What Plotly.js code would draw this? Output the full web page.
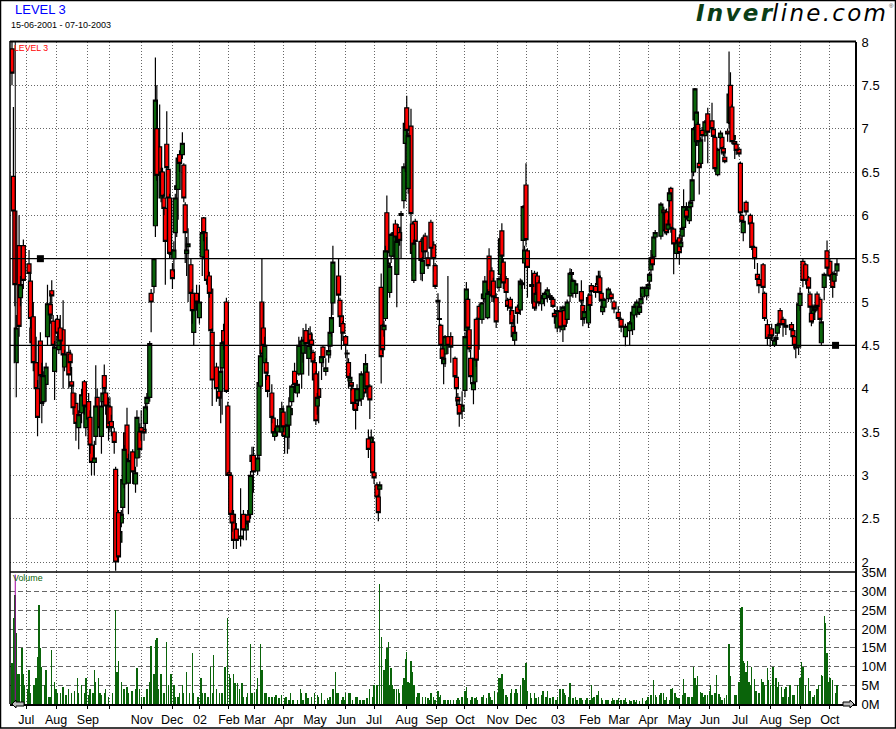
<!DOCTYPE html>
<html>
<head>
<meta charset="utf-8">
<script src="https://cdn.plot.ly/plotly-3.0.1.min.js"></script>
<style>html,body{margin:0;padding:0;background:#fff}</style>
</head>
<body>
<div id="chart" style="width:896px;height:729px"></div>
<script>
const session = [
0,1,2,3,5,6,8,12,13,14,
15,17,18,20,21,22,24,25,27,28,
29,30,32,33,34,36,37,40,41,42,
43,45,47,49,51,52,54,55,56,58,
59,60,63,64,65,66,68,69,70,72,
73,75,76,77,78,79,80,81,82,85,
87,88,90,91,93,94,95,97,98,100,
101,102,104,105,106,107,108,109,110,111,
112,113,114,115,116,117,118,120,121,122,
123,124,126,127,128,130,132,134,135,136,
137,139,140,141,144,146,147,148,149,151,
152,153,154,155,156,158,161,163,165,166,
168,169,170,173,174,175,176,177,178,179,
180,183,184,185,187,190,191,192,194,195,
196,197,199,201,202,204,205,207,209,210,
211,212,213,214,215,216,218,219,221,223,
224,225,226,230,231,232,233,235,236,237,
238,239,240,242,243,244,246,248,249,250,
251,252,253,254,255,257,258,259,260,261,
262,263,264,265,266,267,268,269,270,271,
272,273,274,276,277,278,279,281,282,283,
284,288,289,290,291,293,295,297,298,300,
301,302,303,304,305,307,309,312,313,314,
315,317,319,320,321,322,323,325,326,327,
329,331,332,333,335,336,338,339,341,343,
344,345,346,348,349,351,352,353,354,356,
358,359,360,361,362,363,366,368,369,370,
371,373,375,377,379,380,381,382,384,386,
388,389,391,393,394,395,397,401,402,403,
406,407,408,411,413,414,415,416,417,420,
422,424,427,429,432,435,437,438,440,442,
443,444,447,448,449,450,451,452,453,457,
459,460,461,462,463,464,466,468,470,471,
472,473,475,477,478,479,480,481,482,483,
484,485,486,488,490,493,494,495,497,499,
500,501,502,504,505,506,507,508,509,510,
512,513,514,515,517,520,521,523,525,526,
529,530,532,534,535,537,538,539,541,543,
545,549,550,551,552,554,555,557,559,561,
562,563,564,565,566,567,569,570,572,574,
576,578,579,581];
const open = [
7.92,6.45,6.05,4.3,5.65,5.05,5.65,5.44,5.24,4.7,
4.83,4.3,4,4.55,4.14,3.85,4.05,4.6,4.97,5.13,
4.78,4.2,4.8,4.45,4.7,4.68,4.25,4.42,4.4,4.08,
3.95,3.83,3.55,3.72,4.08,3.55,3.85,3.67,3.35,3.15,
3.45,3.9,3.45,3.85,4.15,3.95,3.8,3.79,3.62,3.5,
3.07,2.57,2.23,2.45,2.63,2.9,3.49,3.58,2.91,3.27,
2.9,3.2,3.5,3.55,3.53,3.6,3.83,3.9,5.1,5.18,
5.88,7,6.79,6.2,6.5,6.2,6.08,6.82,6.53,6.2,
5.6,5.37,5.5,5.8,6.3,6.3,6.7,6.7,6.58,6.12,
5.56,5.64,5.43,5.1,4.65,5.1,4.82,5.52,5.97,5.8,
5.6,5.3,5.15,4.65,4.25,3.97,3.97,4.24,4.67,5,
3.8,3.03,3,2.55,2.55,2.38,2.27,2.55,2.37,2.54,
2.55,3.23,3.23,3.05,3.23,4.03,5,4.7,4.3,4.3,
4.15,3.95,3.66,3.45,3.5,3.5,3.73,3.58,3.44,3.58,
3.7,3.85,4.2,3.95,4.17,4.17,4.41,4.67,4.35,4.63,
4.56,4.42,4.3,4.17,3.8,4,4.3,4.48,4.2,4.39,
4.49,4.65,4.99,5.3,5.02,4.84,4.75,4.6,4.41,4.3,
4.09,4.07,4,3.83,3.87,3.9,3.88,4.05,4,4.19,
3.42,4.03,3.38,3.38,3.03,2.89,2.75,2.84,5.17,4.73,
4.68,4.81,6.03,5.42,5.11,5.53,5.71,5.53,5.9,5.32,
5.86,5.8,6,6.17,6.83,7.24,6.31,7.03,5.9,5.25,
5.93,5.7,5.33,5.58,5.76,5.51,5.92,5.66,5.42,5.02,
4.81,4.73,4.46,4.29,4.4,4.6,4.6,4.35,4.13,3.9,
3.82,3.74,3.98,4.67,5.03,4.68,4.35,3.99,4.08,4.8,
4.95,4.8,5.04,5.04,4.82,5.53,5.36,5.24,5.05,5.17,
5.32,5.82,5.46,5.27,5.02,5.03,4.9,4.72,4.56,4.94,
4.91,5.2,5.71,5.45,6.35,5.59,5.2,5.33,5,5.3,
5.22,4.98,5.04,5.07,5.07,5.05,5.03,4.87,4.7,4.89,
4.68,4.9,4.8,5.07,5.34,5.1,5.1,5.12,4.96,4.82,
4.76,5.08,5.19,5.18,5.2,5.28,5.1,4.89,4.94,5.04,
5.09,5,4.88,4.8,4.6,4.67,4.68,4.85,4.86,4.88,
4.98,5.06,5.07,5.15,5.24,5.37,5.51,5.52,5.75,5.76,
6.06,6.03,6.04,5.84,6.17,6.31,5.84,5.56,5.74,5.64,
5.76,5.86,6.06,5.94,6.1,6.17,6.5,7.1,6.85,7.05,
6.6,6.6,6.98,6.92,7.17,7.09,6.99,6.9,6.47,6.9,
6.9,6.77,6.67,6.97,7.07,7.5,7.25,6.88,6.85,6.82,
6.76,6.6,6,5.8,6.15,6,5.91,5.63,5.32,5.26,
5.43,5.1,4.74,4.62,4.69,4.5,4.57,4.64,4.9,4.8,
4.71,4.74,4.67,4.6,4.5,4.48,4.96,5.47,5.43,5.28,
5.09,4.87,4.8,4.93,4.92,5.09,5.03,4.53,5.17,5.59,
5.47,5.32,5.24,5.36];
const high = [
8,7.25,6.05,4.85,6,5.3,5.72,5.6,5.33,4.8,
5,4.6,4.1,4.65,4.3,4.2,4.3,5.2,5.1,5.25,
4.85,4.55,4.85,4.65,4.85,5.02,4.45,4.5,4.45,4.25,
4.03,3.95,3.75,4,4.1,3.9,3.95,3.75,3.4,3.4,
4.27,4,3.85,4.05,4.28,4,3.9,3.9,3.7,3.55,
3.1,2.6,2.45,2.6,3,3.35,3.55,3.78,3.25,3.3,
3.1,3.75,3.6,3.75,3.6,3.85,3.95,4.55,5.15,5.5,
7.82,7.5,7.28,6.55,6.55,6.25,6.1,7.2,6.55,6.25,
5.7,5.45,5.7,6.25,6.4,6.7,6.75,6.96,6.6,6.15,
5.75,5.85,5.5,5.15,5.1,5.2,5.2,5.9,5.98,5.85,
5.75,5.35,5.2,4.7,4.3,4.05,4.25,4.6,4.75,5.05,
3.85,3.06,3,2.6,2.6,2.45,2.85,2.6,2.55,2.6,
3.05,3.33,3.33,3.25,4.2,4.45,5.5,5,4.6,4.35,
4.2,4.05,3.7,3.55,3.65,3.85,3.8,3.6,3.6,3.9,
3.8,4.05,4.3,4.1,4.6,4.6,4.7,4.75,4.7,4.72,
4.65,4.45,4.35,4.2,3.95,4.2,4.48,4.5,4.35,4.5,
4.7,5,5.65,5.5,5.05,4.87,4.78,4.62,4.45,4.35,
4.18,4.1,4.05,3.88,4.05,3.95,4.2,4.1,4.4,4.25,
3.53,4.05,3.53,3.42,3.05,2.92,2.78,2.93,5.33,4.75,
4.78,5.65,6.23,5.5,5.45,5.8,5.8,5.85,5.95,5.75,
5.9,5.85,6.05,6.6,7.1,7.38,6.95,7.23,5.93,5.72,
5.96,5.73,5.52,5.78,5.8,5.58,5.95,5.7,5.45,5.1,
5,4.75,4.5,4.4,4.62,5.3,4.65,4.37,4.15,3.95,
3.88,3.97,4.65,5.23,5.05,4.7,4.45,4.1,4.4,4.82,
4.98,5,5.13,5.3,5.15,5.62,5.4,5.28,5.1,5.3,
5.78,5.91,5.5,5.3,5.05,5.06,4.95,4.8,4.85,4.97,
5.27,5.26,6.12,5.65,6.6,5.62,5.37,5.36,5.25,5.35,
5.25,5.08,5.12,5.17,5.1,5.08,5.06,4.92,4.95,4.95,
4.96,4.95,5.03,5.39,5.38,5.27,5.25,5.25,5,4.93,
5.1,5.12,5.22,5.22,5.36,5.36,5.12,5,5.05,5.17,
5.12,5.02,4.95,4.82,4.75,4.78,4.9,4.98,5.03,4.98,
5.1,5.18,5.2,5.22,5.35,5.6,5.55,5.78,5.83,6.15,
6.1,6.06,6.08,5.95,6.3,6.33,5.86,5.72,5.78,5.72,
5.9,6.3,6.15,6.17,6.2,6.5,7.02,7.47,7.2,7.08,
6.62,6.9,7.02,7.1,7.24,7.3,7.02,6.93,6.78,6.98,
6.95,6.8,6.72,7,7.89,7.65,7.28,6.95,6.88,6.85,
6.78,6.62,6.02,5.95,6.17,6.02,5.93,5.65,5.45,5.3,
5.45,5.12,4.8,4.65,4.75,4.6,4.62,4.76,4.93,4.83,
4.8,4.77,4.7,4.62,4.52,5,5.17,5.5,5.45,5.3,
5.12,4.9,4.97,4.97,4.98,5.12,5.06,4.82,5.34,5.71,
5.5,5.35,5.36,5.5];
const low = [
7.5,6,4.95,3.9,4.6,4.95,5.15,5.2,4.7,4.45,
4.2,3.9,3.45,4.05,3.6,3.8,3.85,4.5,4.75,4.8,
4.4,3.87,4.55,4.4,4.45,4,4.2,4,4.2,3.85,
3.7,3.4,3.3,3.6,3.7,3.45,3.4,3.25,3,3,
3.35,3.45,3.25,3.75,3.9,3.7,3.4,3.5,3.45,3.25,
1.9,2,2.1,2.4,2.55,2.85,2.9,3.1,2.55,2.9,
2.8,3.1,3.2,3.4,3.4,3.5,3.75,3.85,4.65,5.1,
5.75,6.4,6.4,6.15,6.1,6,5.2,6.45,6.15,5.5,
5.5,5.15,5.35,5.6,5.75,5.95,6.5,6.65,6.15,5.45,
5.3,5,5,4.75,4.5,4.9,4.75,5.3,5.7,5.4,
5.2,5.05,4.6,3.8,3.85,3.8,3.6,3.7,4.45,3.95,
3,2.95,2.5,2.35,2.15,2.15,2.18,2.25,2.25,2.4,
2.5,3.1,2.8,3,3.2,4,4.35,4.4,4.2,4.1,
3.9,3.6,3.45,3.4,3.45,3.45,3.5,3.25,3.25,3.3,
3.65,3.8,3.95,3.9,4.15,4,4.3,4.4,4.15,4.45,
4.4,4.15,4,3.58,3.7,3.6,4.1,4.25,4.15,4.3,
4.35,4.6,4.85,5,4.75,4.45,4.55,4.35,4.3,4,
4.05,3.98,3.75,3.53,3.75,3.8,3.8,3.9,3.95,3.9,
3.2,3.65,3.33,3,2.9,2.7,2.47,2.75,4.06,4.4,
4.6,4.78,5.5,5.38,5.05,5.45,5.65,5.5,5.65,4.94,
5.65,5.65,5.5,6.08,6.5,6.9,6.25,5.9,5.3,5.22,
5.3,5.25,5.24,5.5,5.5,5.38,5.5,5.35,5.15,4.8,
4.55,4.45,4.3,4.05,4.25,4.4,4.3,4.1,3.8,3.7,
3.56,3.65,3.9,4.6,4.65,4.42,4.05,3.82,4.05,4.25,
4.45,4.75,5,5,4.8,5.05,5,5,4.7,5.12,
5.25,5.45,5.15,4.95,4.9,4.85,4.7,4.55,4.5,4.75,
4.85,5.15,5.6,5.15,5.65,5.05,4.98,4.9,4.9,5.05,
4.95,4.9,4.95,5,5.03,5,4.93,4.75,4.65,4.65,
4.54,4.68,4.75,5,5.15,5.05,5.05,4.95,4.72,4.75,
4.7,4.9,5,5.05,5.1,5,4.95,4.85,4.9,5,
5,4.87,4.78,4.65,4.49,4.5,4.62,4.8,4.82,4.85,
4.93,5,5.02,5.14,5.2,5.32,5.4,5.48,5.72,5.72,
6,5.78,5.77,5.8,6.1,5.8,5.32,5.5,5.43,5.6,
5.7,5.83,5.95,5.9,6.08,6.15,6.45,7.05,6.8,6.8,
6.24,6.55,6.85,6.85,6.6,6.95,6.85,6.5,6.45,6.88,
6.7,6.68,6.6,6.85,7,7,6.82,6.85,6.65,6.7,
6.68,6,5.9,5.7,6,5.87,5.6,5.38,5.24,5.1,
5.08,4.78,4.5,4.48,4.55,4.48,4.5,4.6,4.7,4.6,
4.62,4.6,4.55,4.45,4.35,4.39,4.9,5.17,5.2,5.1,
4.85,4.72,4.75,4.85,4.88,4.9,4.78,4.5,5.02,5.3,
5.25,5.05,5.2,5.3];
const close = [
7.64,6.05,5.2,4.7,4.72,5.2,5.25,5.33,4.81,4.53,
4.3,4,3.67,4.15,3.83,4.15,4.25,4.98,4.85,5.07,
4.5,4.48,4.64,4.6,4.55,4.39,4.4,4.16,4.3,4.03,
3.78,3.6,3.7,3.93,3.8,3.8,3.65,3.35,3.15,3.2,
3.8,3.55,3.8,3.95,4,3.8,3.55,3.6,3.55,3.38,
2,2.06,2.35,2.55,2.95,3.3,3.03,3.18,3.17,3.04,
3.03,3.67,3.3,3.5,3.49,3.79,3.9,4.52,5,5.5,
7.33,6.46,6.47,6.5,6.22,6.08,5.7,6.55,6.2,5.56,
5.55,5.27,5.6,6.2,6.34,6.66,6.6,6.83,6.2,5.8,
5.6,5.67,5.1,4.9,5,5,5,5.8,5.8,5.5,
5.25,5.1,4.67,4.1,4,3.89,4.2,4.53,4.53,3.97,
3,3,2.55,2.45,2.25,2.25,2.3,2.37,2.45,2.46,
3,3.16,3.04,3.2,4.07,4.38,4.4,4.5,4.5,4.18,
3.97,3.67,3.49,3.5,3.57,3.77,3.56,3.45,3.58,3.8,
3.77,4.03,4.05,4.05,4.5,4.55,4.56,4.52,4.5,4.52,
4.5,4.31,4.1,3.63,3.9,3.9,4.37,4.36,4.24,4.44,
4.65,4.82,5.46,5.08,4.83,4.72,4.64,4.5,4.4,4.13,
4.13,4.03,3.83,3.75,4,3.86,4.17,3.95,4.29,4.02,
3.3,3.87,3.44,3.03,2.97,2.75,2.57,2.89,4.37,4.45,
4.73,5.59,5.57,5.45,5.41,5.78,5.78,5.8,5.75,5.7,
5.71,5.71,6.02,6.56,7.06,6.98,6.92,6.02,5.56,5.68,
5.7,5.48,5.48,5.74,5.58,5.42,5.62,5.5,5.18,5,
4.8,4.5,4.35,4.35,4.6,4.5,4.48,4.14,4,3.86,
3.71,3.81,4.6,5.15,4.7,4.46,4.14,4.07,4.35,4.33,
4.8,4.99,5.09,5.24,5.1,5.11,5.07,5.06,4.77,5.27,
5.73,5.53,5.22,5.11,4.95,4.93,4.75,4.6,4.65,4.87,
5.24,5.22,6.1,5.6,5.72,5.4,5.18,4.93,5.1,5.1,
4.99,5.05,5.1,5.14,5.05,5.03,4.95,4.83,4.9,4.71,
4.94,4.72,5,5.33,5.32,5.25,5.21,5.01,4.8,4.89,
5.05,4.96,5.12,5.11,5.3,5.11,5.02,4.95,5.03,5.15,
5.04,4.92,4.81,4.71,4.72,4.76,4.88,4.95,5,4.95,
5.04,5.17,5.17,5.2,5.32,5.51,5.43,5.75,5.8,6.13,
6.03,5.82,5.8,5.9,6.26,5.85,5.67,5.69,5.57,5.69,
5.85,6.1,5.98,6.1,6.15,6.41,7,7.46,7.19,6.85,
6.55,6.87,6.92,7.08,6.96,7,6.91,6.54,6.76,6.95,
6.77,6.72,6.62,6.94,7.4,7.06,6.85,6.92,6.82,6.75,
6.71,6.03,5.93,5.93,6.04,5.9,5.63,5.5,5.26,5.19,
5.17,4.81,4.58,4.58,4.61,4.56,4.59,4.74,4.74,4.74,
4.73,4.68,4.6,4.5,4.47,4.98,5.1,5.25,5.25,5.16,
4.94,4.77,4.95,4.9,4.95,4.95,4.8,4.77,5.32,5.39,
5.3,5.17,5.33,5.44];

const volumeSession = [
0,1,2,3,4,5,7,8,9,11,12,13,15,16,17,18,19,20,21,23,24,26,27,28,30,31,32,34,36,38,40,42,44,46,47,49,51,52,54,55,57,58,59,61,62,63,65,66,68,71,73,74,75,77,79,81,82,84,85,87,88,90,91,93,95,97,98,100,101,102,103,105,107,109,110,112,114,115,117,118,120,121,123,125,127,128,131,133,134,136,138,140,141,142,144,146,148,150,152,153,154,156,157,159,160,162,163,165,166,168,169,171,172,173,175,176,178,179,181,183,185,186,188,190,192,193,195,196,198,
201,203,204,205,207,208,209,211,213,215,216,218,220,222,223,224,226,228,229,230,232,233,234,235,237,238,240,242,243,245,247,248,250,252,254,255,257,259,260,262,263,264,265,266,267,268,269,271,272,273,275,276,277,278,279,280,281,282,283,285,286,287,289,291,293,294,295,297,298,300,301,302,304,305,307,309,311,313,314,315,317,319,320,321,323,324,326,327,328,331,332,334,336,337,338,340,342,343,344,345,346,348,349,351,352,354,355,356,358,360,361,362,363,365,366,368,369,371,373,374,376,377,379,381,383,384,386,388,389,390,392,393,395,397,398,400,401,402,404,405,407,408,409,410,412,413,
415,416,418,419,420,422,423,424,426,427,429,431,432,433,435,436,438,439,440,442,444,446,447,448,450,452,453,454,456,457,459,460,461,463,464,465,467,468,469,470,472,473,474,476,477,479,480,481,482,483,485,486,487,488,490,491,492,493,495,496,498,499,500,502,503,505,506,509,510,512,513,514,515,516,517,518,519,520,521,523,524,526,528,529,530,532,533,534,536,538,539,540,542,543,544,545,547,548,550,551,553,555,556,557,559,561,562,564,565,567,568,570,571,572,573,574,575,576,578,580,581];
const volumeM = [
11,23,29,19,8,8,15,8,5,4,9,3,5,5,7,12.5,26.5,15,10,5,9,2,2,14.5,6,4,3,3,4.5,2.5,4,3,3.5,7,3,5,3,7,2.5,4,3,9,6,7,3,2.5,3,4,2,3,25,8.5,11.5,6,4,4.5,3,3.5,3.5,4,9.5,4,2,2,4,6,15.5,8,17,17.5,4,8,3,16.5,5,8,5,2,2,3,5,3,8.5,3,13.5,3,2,7,3,3,2,10,3,13,4,3,3,10,23,8,7,8,5.5,5.5,4,5.5,2,2,3,16,3,3,4,7,16,9,3,3,2,2,2,2.5,1.5,2.5,1.5,2,1,3,1,
1,4,3,1,3,1.5,1.5,2,3,2.5,2,3,1,1.5,1,2,4,8.5,3,3,1,2,1,3,3,3,1,2,2,1,1,1,1.5,4,2,5,5,32,18,9,12,15,16.5,5,9.5,5,4,4,4,3,5,7,12,14,6,5.5,11.5,8.5,5,2,3,3,2,2,1.5,1,3,2,1,3.5,2,2.5,1,1,1,1,1,1,1.5,1,2,3.5,4.5,1.5,1,2,1.5,2,1,2,2.5,1.5,3,2,1,3.5,3,7,7,8,4,2.5,2,3,4,3,4,3,5,7,6.5,11,3.5,3,1.5,3,1.5,2,2.5,3.5,2,3.5,1.5,2,1,2,4,4,3,2.5,2,5.5,1.5,2,1,1.5,1.5,1,1,1.5,1,5,1.5,2,2.5,3.5,
1.5,1,1,1,1,0.7,1.5,1,1,1.5,1,1,1.5,0.5,1,0.7,1,0.5,1,0.7,1.7,0.7,1,2,2.5,6.3,2.5,2,2.5,3,3,1,2,1,4,4.2,3,2,1.5,1.5,2.5,6.8,3,2,2,2,10,7,5,7.5,3.2,3,2,2.5,2.5,3.5,5,2.5,3,7.7,2.7,2,1,1.5,2.5,16,7.5,2.5,2.5,5.8,25.5,26,11.5,11,8.5,11.5,6,5,10,6.7,3.5,3,6.7,6,5,9.5,6.5,5,10,7,4.5,5.8,4.5,2,4,4.5,2,5,2.5,2.5,5,7,11.3,10,5,7,3.5,2,2.5,4,5,7.7,7.5,23.5,21.5,13.5,6,7,6.5,3,5];

const monthSessions = [10,31,53.5,69,91.5,112.7,132.4,152.8,171,191.5,213.4,235.2,255,278,299,319,342,362,384.5,407,427.5,448,470,491.5,512.7,534.5,555,576];
const monthLabels = ['Jul','Aug','Sep','','Nov','Dec','02','Feb','Mar','Apr','May','Jun','Jul','Aug','Sep','Oct','Nov','Dec','03','Feb','Mar','Apr','May','Jun','Jul','Aug','Sep','Oct'];
const levelSessions = [20,580];
const levelPrices = [5.5,4.5];
const guideLevels = [5.5,4.5];

const UP = '#0a640a', DOWN = '#ff0000', INK = '#000000', GRID = '#666666';
const FONT = '"Liberation Sans", Arial, sans-serif';
const W = 896, H = 729, L = 10, R = 855, T = 42, B = 704, SPLIT = 572;
const px = x => (x - L) / (R - L);
const py = y => (B - y) / (B - T);
const XR = [-1.4, 593.7];

const traces = [];
[0,1,2,3].forEach(k => {
  const idx = session.map((s,i) => s % 4 === k ? i : -1).filter(i => i >= 0);
  const pick = a => idx.map(i => a[i]);
  traces.push({
    type: 'candlestick',
    x: pick(session), open: pick(open), high: pick(high), low: pick(low), close: pick(close),
    xaxis: k === 0 ? 'x' : 'x' + (k + 2), yaxis: 'y',
    increasing: {fillcolor: UP, line: {color: INK, width: 1.2}},
    decreasing: {fillcolor: DOWN, line: {color: INK, width: 1.2}},
    whiskerwidth: 0, hoverinfo: 'skip', showlegend: false
  });
});
traces.push({type:'bar', x: volumeSession, y: volumeM, xaxis:'x', yaxis:'y2', width: 0.95,
  marker:{color: UP, line:{width:0}}, hoverinfo:'skip', showlegend:false});
traces.push({type:'scatter', mode:'markers', x: levelSessions, y: levelPrices, xaxis:'x5', yaxis:'y',
  marker:{symbol:'square', size:7, color: INK}, hoverinfo:'skip', showlegend:false});

const overlay = () => ({overlaying:'x', range: XR, visible:false, anchor:'y', rangeslider:{visible:false}, fixedrange:true});
const arrow = (pts) => ({type:'path', xref:'paper', yref:'paper',
  path: pts.map((p,i) => (i ? 'L' : 'M') + px(p[0]) + ',' + py(p[1])).join(' ') + ' Z',
  fillcolor:'#b8b8b8', line:{color:INK, width:1}});
const paperLine = (x0,y0,x1,y1,w) => ({type:'line', xref:'paper', yref:'paper', x0:px(x0), x1:px(x1), y0:py(y0), y1:py(y1), line:{color:INK, width:w}});
const note = (text,x,y,size,color,anchor,family) => ({text, xref:'paper', yref:'paper', x:px(x), y:py(y), xanchor:anchor||'left', yanchor:'middle', showarrow:false, font:{size, color, family:family||FONT}});
const H_SP = '\u200A';
const logoA = 'Inver'.split('').join(H_SP);
const logoB = 'line.com'.split('').join(H_SP);

const layout = {
  width: W, height: H, autosize:false,
  margin:{l:L, r:W-R, t:T, b:H-B, pad:0},
  paper_bgcolor:'#ffffff', plot_bgcolor:'#ffffff', showlegend:false, bargap:0,
  boxgap:0.3, boxgroupgap:0, boxmode:'overlay',
  xaxis:{anchor:'y2', range:XR, tickmode:'array', tickvals:monthSessions, ticktext:monthLabels,
    ticks:'outside', ticklen:3, tickcolor:INK, tickfont:{size:12.5, color:INK, family:FONT},
    showgrid:true, gridcolor:GRID, griddash:'1px,2px', gridwidth:1, zeroline:false,
    showline:true, linecolor:INK, linewidth:2, rangeslider:{visible:false}, fixedrange:true, tickangle:0},
  xaxis3:overlay(), xaxis4:overlay(), xaxis5:overlay(),
  yaxis:{domain:[py(SPLIT),1], range:[8-(SPLIT-T)/86.67,8], side:'right', tick0:2, dtick:0.5, anchor:'x',
    tickfont:{size:13, color:INK, family:FONT}, ticks:'', ticklabelstandoff:2,
    showgrid:true, gridcolor:GRID, griddash:'1px,2px', gridwidth:1, zeroline:false,
    showline:true, linecolor:INK, linewidth:2, fixedrange:true},
  yaxis2:{domain:[0,py(SPLIT)], range:[0,35.2], side:'right', tick0:0, dtick:5, ticksuffix:'M', anchor:'x',
    tickfont:{size:13, color:INK, family:FONT}, ticks:'', ticklabelstandoff:2,
    showgrid:true, gridcolor:GRID, griddash:'5px,3px', gridwidth:1, zeroline:false,
    showline:true, linecolor:INK, linewidth:2, fixedrange:true},
  shapes:[
    ...guideLevels.map(v => ({type:'line', xref:'paper', yref:'y', x0:0, x1:1, y0:v, y1:v, line:{color:INK, width:1.3}})),
    paperLine(L,41.5,R+1,41.5,2), paperLine(L,41,L,B,1.5), paperLine(L,SPLIT,R,SPLIT,1.5),
    {type:'line', xref:'x', yref:'y', x0:2.3, x1:2.3, y0:8, y1:4.3, line:{color:INK, width:1}},
    {type:'line', xref:'x', yref:'y', x0:2.3, x1:2.3, y0:4.3, y1:3.9, line:{color:'#aaaaaa', width:1}},
    {type:'line', xref:'x', yref:'y2', x0:2.3, x1:2.3, y0:0, y1:34.5, line:{color:'#a000a0', width:1}},
    arrow([[12,704],[16,700],[16,702],[24,702],[24,706],[16,706],[16,708]]),
    arrow([[854,704],[850,700],[850,702],[843,702],[843,706],[850,706],[850,708]]),
    {type:'rect', xref:'paper', yref:'paper', x0:px(0.5), x1:px(895.5), y0:py(728), y1:py(0.5), line:{color:INK, width:1.5}, fillcolor:'rgba(0,0,0,0)'}
  ],
  annotations:[
    note('LEVEL 3',13,10,13,'#0000ff'),
    note('15-06-2001 - 07-10-2003',9,25.5,9,'#000000'),
    note('LEVEL 3',12,48,8.7,'#ff0000'),
    note('Volume',11,578,8.9,'#0a640a'),
    note('<b><i><span style="color:#0b3d16">' + logoA + '</span></i></b><i>' + logoB + '</i>',888,13,23,'#000000','right','"DejaVu Sans", sans-serif'),
    note('®',887,6,6,'#444444')
  ]
};

Plotly.newPlot('chart', traces, layout, {staticPlot:true, displayModeBar:false});
</script>
</body>
</html>
